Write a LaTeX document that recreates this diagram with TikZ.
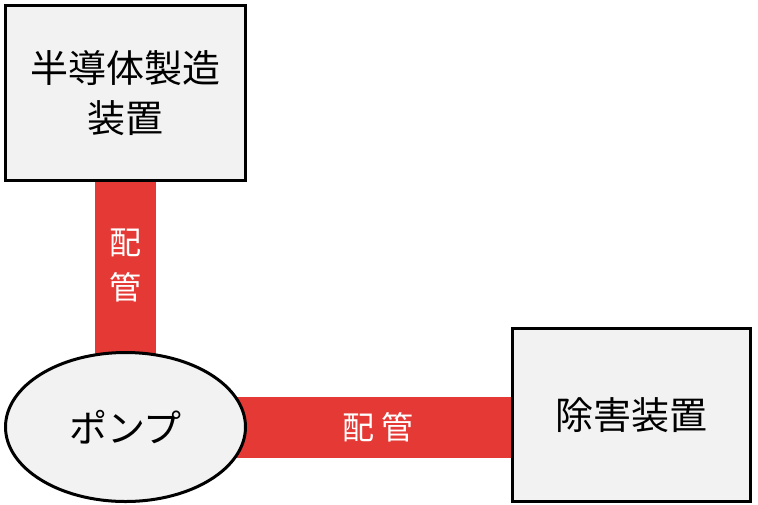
\documentclass[tikz,border=0pt]{standalone}
\usepackage{fontspec}
\newfontfamily\jpfont{Noto Sans CJK JP}
\usetikzlibrary{shapes.geometric,backgrounds}
\definecolor{pipered}{HTML}{E53935}
\definecolor{boxgray}{HTML}{F2F2F2}

\begin{document}
\begin{tikzpicture}[x=1pt, y=-1pt,
  every node/.style={font=\jpfont\fontsize{38}{50}\selectfont},
  unit/.style={rectangle, draw=black, fill=boxgray, line width=3pt, align=center,
               minimum width=240pt, minimum height=175pt},
  pumpshape/.style={ellipse, draw=black, fill=boxgray, line width=3pt, inner sep=0pt,
                    minimum width=240pt, minimum height=149pt},
  pipe/.style={pipered, line width=61pt},
  pipelabel/.style={text=white, align=center, font=\jpfont\fontsize{32}{45}\selectfont},
]

% page frame (reference is 758 x 504)
\useasboundingbox (0,0) rectangle (758,504);

% --- Units ---
\node[unit] (fab) at (125.5,93) {半導体製造\\装置};
\node[pumpshape] (pump) at (125.5,427) {ポンプ};
\node[unit, minimum width=238pt, minimum height=173pt] (abate) at (631.5,415) {除害装置};

% --- Piping (behind the units) ---
\begin{scope}[on background layer]
  \draw[pipe] (fab.south) -- (pump.center) node[pipelabel, pos=0.341] {配\\管};
  \draw[pipe] (pump.center) -- (pump.center -| abate.west) node[pipelabel, pos=0.656] {配 管};
\end{scope}

\end{tikzpicture}
\end{document}
